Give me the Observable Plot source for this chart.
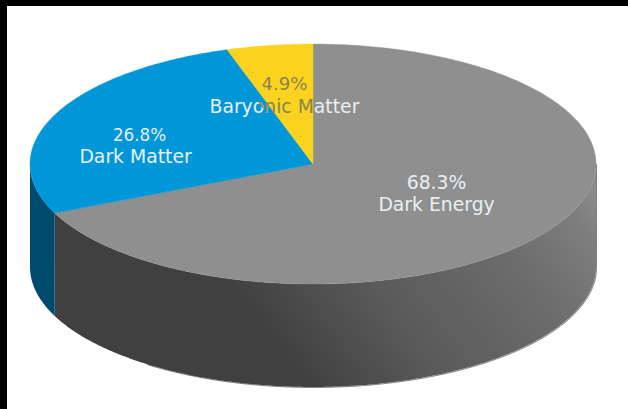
<!DOCTYPE html>
<html>
<head>
<meta charset="utf-8">
<script src="https://cdn.jsdelivr.net/npm/d3@7"></script>
<script src="https://cdn.jsdelivr.net/npm/@observablehq/plot@0.6"></script>
<style>
  html, body { margin: 0; height: 100%; background: #000; overflow: hidden; }
  body { padding: 6px 0 0 7px; box-sizing: border-box; }
  svg { display: block; background: #fff; }
</style>
</head>
<body>
<div id="chart"></div>
<script>
// Composition of the universe
const categories = ["Dark Energy", "Dark Matter", "Baryonic Matter"];
const shares = [68.3, 26.8, 4.9];
const topColors = ["#8f8f8f", "#0096d8", "#fbd31f"];
const wallColors = ["url(#energy-wall)", "#004a6e", "#8a7010"];

const thickness = 0.858;   // height of the disc, in units of the vertical radius
const tau = 2 * Math.PI;

// Label placement per wedge: distance along the mid-angle, vertical nudges, percent size
const labelLayout = [
  {radius: 0.518, shift: -4, gap: 11, percentSize: 18.8, percentOffset: 0},
  {radius: 0.689, shift: 15.5, gap: 10.5, percentSize: 16.8, percentOffset: 4},
  {radius: 0.67, shift: 10.5, gap: 11, percentSize: 18.2, percentOffset: 0}
];

// Wedge angles run clockwise from twelve o'clock
let running = 0;
const wedges = categories.map((name, i) => {
  const start = running / 100 * tau;
  running += shares[i];
  const end = running / 100 * tau;
  return {name, share: shares[i], start, end, mid: (start + end) / 2, i};
});

const arc = (a0, a1) => {
  const n = Math.max(2, Math.ceil((a1 - a0) / 0.01));
  return d3.range(n + 1).map(k => a0 + (a1 - a0) * k / n);
};
const px = a => Math.sin(a);
const py = a => Math.cos(a);

const fan = w => arc(w.start, w.end);
const wallArc = w => {
  const a0 = Math.max(w.start, Math.PI / 2), a1 = Math.min(w.end, 1.5 * Math.PI);
  return a1 > a0 ? arc(a0, a1) : [];
};

const topFace = w => Plot.area(fan(w), {
  x1: 0, y1: 0, x2: px, y2: py,
  fill: topColors[w.i], stroke: topColors[w.i], strokeWidth: 0.4
});
const wall = w => Plot.area(wallArc(w), {
  x1: px, x2: px,
  y1: py, y2: a => py(a) - thickness,
  fill: wallColors[w.i]
});

const labels = wedges.map(w => {
  const {radius, shift, gap, percentSize, percentOffset} = labelLayout[w.i];
  return {
    percent: `${w.share.toFixed(1)}%`,
    name: w.name,
    x: px(w.mid) * radius,
    y: py(w.mid) * radius - shift / 120,
    gap, percentSize, percentOffset
  };
});

// Each label is a percentage line above a name line
const labelMarks = (rows, fill, extra = {}) => [
  ...rows.map(r => Plot.text([r], {
    x: "x", y: "y", text: "percent", fill, dx: r.percentOffset, dy: -r.gap,
    fontFamily: "DejaVu Sans", fontSize: r.percentSize, ...extra
  })),
  Plot.text(rows, {
    x: "x", y: "y", text: "name", fill, dy: rows[0].gap,
    fontFamily: "DejaVu Sans", fontSize: 18.8, ...extra
  })
];

// Gradient for the shaded wall and a clip shaped like the narrow wedge
const defs = (index, {x, y}) => {
  const ns = "http://www.w3.org/2000/svg";
  const node = document.createElementNS(ns, "defs");
  const b = wedges[2];
  const outline = [[0, 0], ...fan(b).map(a => [px(a), py(a)])]
    .map(([u, v]) => `${x(u)},${y(v)}`).join(" ");
  node.innerHTML = `
    <linearGradient id="energy-wall" gradientUnits="userSpaceOnUse"
        x1="${x(-0.576)}" y1="${y(-0.717)}" x2="${x(0.534)}" y2="${y(1.25)}">
      <stop offset="0" stop-color="#404040"/>
      <stop offset="0.12" stop-color="#414141"/>
      <stop offset="0.4" stop-color="#5a5a5a"/>
      <stop offset="0.72" stop-color="#6c6c6c"/>
      <stop offset="0.92" stop-color="#7e7e7e"/>
      <stop offset="1" stop-color="#8c8c8c"/>
    </linearGradient>
    <clipPath id="narrow-wedge"><polygon points="${outline}"/></clipPath>`;
  return node;
};

const clipped = (index, scales, values, dimensions, context, next) => {
  const g = next(index, scales, values, dimensions, context);
  g.setAttribute("clip-path", "url(#narrow-wedge)");
  return g;
};

// Rim line down the right edge and along the lower curve
const rim = [
  {x: 1, y: 0},
  ...arc(Math.PI * 0.5, Math.PI * 1.2).map(a => ({x: px(a), y: py(a) - thickness}))
];

const chart = Plot.plot({
  width: 621,
  height: 403,
  margin: 0,
  axis: null,
  x: {domain: [-1, 1], range: [23, 589]},
  y: {domain: [-1, 1], range: [278, 38]},
  marks: [
    defs,
    ...wedges.map(wall),
    Plot.line(rim, {x: "x", y: "y", stroke: "#2a2a2a", strokeWidth: 0.8, strokeOpacity: 0.75}),
    topFace(wedges[0]),
    topFace(wedges[1]),
    ...labelMarks(labels, "#e9eff2"),
    topFace(wedges[2]),
    // Light lettering turns muted where it crosses the yellow wedge
    ...labelMarks(labels.slice(2), "#8a8350", {render: clipped})
  ]
});

document.getElementById("chart").append(chart);
</script>
</body>
</html>
